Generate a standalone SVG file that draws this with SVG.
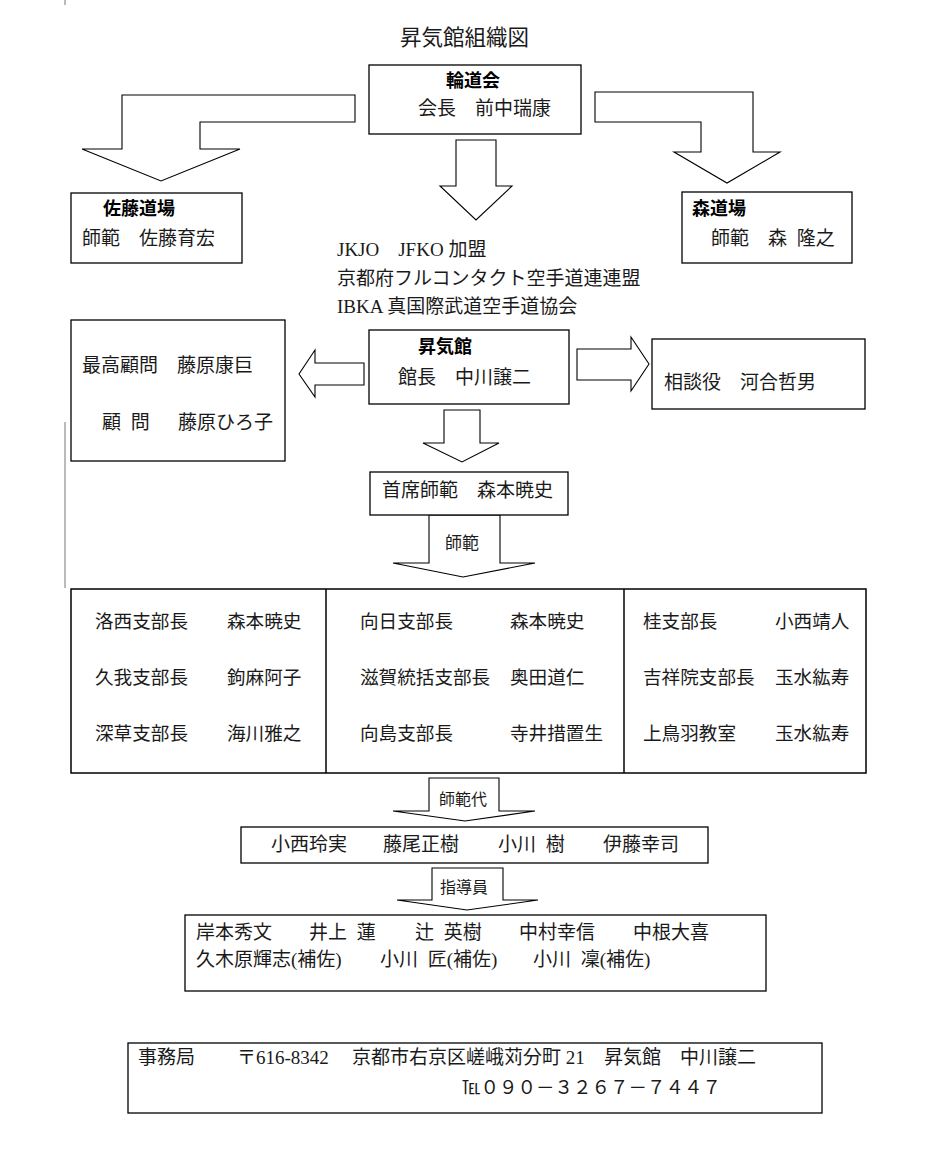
<svg xmlns="http://www.w3.org/2000/svg" width="931" height="1166" viewBox="0 0 931 1166">
<style>
.box{fill:#fff;stroke:#000;stroke-width:1.3}
.arr{fill:#fff;stroke:#000;stroke-width:1.1;stroke-linejoin:miter}
.t{font-family:"Liberation Serif","Noto Sans CJK JP",serif;font-size:19px;fill:#1a1a1a}
.b{font-family:"Noto Sans CJK JP",sans-serif;font-size:18px;font-weight:bold;fill:#000}
.tb{font-family:"Liberation Serif","Noto Sans CJK JP",serif;font-size:18.6px;fill:#1a1a1a}
.s{font-family:"Liberation Serif","Noto Sans CJK JP",serif;font-size:16px;fill:#1a1a1a}
.thin{stroke:#777;stroke-width:1}
</style>
<rect width="931" height="1166" fill="#fff"/>
<line class="thin" x1="65" y1="0" x2="65" y2="5"/>
<line class="thin" x1="65" y1="422" x2="65" y2="588"/>
<text class="t" x="400" y="45" style="font-size:21.5px">昇気館組織図</text>

<g id="connectors">
<path class="arr" d="M355,95 L122,95 L122,149 L82,149 L161,181 L240,149 L200,149 L200,122 L355,122 Z"/>
<path class="arr" d="M595,92 L753,92 L753,152 L780,152 L727,183 L674,152 L701,152 L701,122 L595,122 Z"/>
<path class="arr" d="M456,140 L496,140 L496,186 L512,186 L476,220 L440,186 L456,186 Z"/>
<path class="arr" d="M364,363 L315,363 L315,350 L299,374 L315,397 L315,385 L364,385 Z"/>
<path class="arr" d="M577,349 L631,349 L631,337 L649,364 L631,391 L631,380 L577,380 Z"/>
<path class="arr" d="M444,410 L480,410 L480,443 L499,443 L462,462 L423,443 L444,443 Z"/>
<path class="arr" d="M429,515 L500,515 L500,563 L535,563 L463,577 L393,563 L429,563 Z"/>
<text class="s" x="445" y="549" style="font-size:17px">師範</text>
<path class="arr" d="M429,778 L499,778 L499,811 L535,811 L465,821 L393,811 L429,811 Z"/>
<text class="s" x="439" y="805">師範代</text>
<path class="arr" d="M432,868 L503,868 L503,900 L538,900 L467,910 L397,900 L432,900 Z"/>
<text class="s" x="440" y="893">指導員</text>
</g>

<g id="rindokai">
<rect class="box" x="369" y="65" width="212" height="69"/>
<text class="b" x="446" y="87">輪道会</text>
<text class="t" x="418" y="115">会長　前中瑞康</text>
</g>

<g id="sato">
<rect class="box" x="71" y="193" width="171" height="70"/>
<text class="b" x="103" y="215">佐藤道場</text>
<text class="t" x="82" y="245">師範　佐藤育宏</text>
</g>

<g id="mori">
<rect class="box" x="682" y="192" width="170" height="71"/>
<text class="b" x="692" y="215">森道場</text>
<text class="t" x="711" y="245">師範　森<tspan dx="5"> 隆之</tspan></text>
</g>

<g id="affiliations">
<text class="t" x="337" y="256">JKJO　JFKO 加盟</text>
<text class="t" x="337" y="285">京都府フルコンタクト空手道連連盟</text>
<text class="t" x="337" y="313">IBKA 真国際武道空手道協会</text>
</g>

<g id="advisors">
<rect class="box" x="71" y="320" width="214" height="141"/>
<text class="t" x="82" y="372">最高顧問　藤原康巨</text>
<text class="t" x="102" y="429">顧<tspan dx="5"> 問</tspan></text>
<text class="t" x="178" y="429">藤原ひろ子</text>
</g>

<g id="shokikan">
<rect class="box" x="369" y="330" width="200" height="74"/>
<text class="b" x="418" y="353">昇気館</text>
<text class="t" x="398" y="384">館長　中川譲二</text>
</g>

<g id="consultant">
<rect class="box" x="652" y="339" width="213" height="70"/>
<text class="t" x="664" y="389">相談役　河合哲男</text>
</g>

<g id="chief">
<rect class="box" x="370" y="472" width="198" height="43"/>
<text class="t" x="382" y="497">首席師範　森本暁史</text>
</g>

<g id="branches">
<rect class="box" x="71" y="589" width="795" height="184" style="stroke-width:1.5"/>
<line x1="326" y1="589" x2="326" y2="773" stroke="#000" stroke-width="1.5"/>
<line x1="624" y1="589" x2="624" y2="773" stroke="#000" stroke-width="1.5"/>
<text class="tb" x="95" y="628">洛西支部長</text>
<text class="tb" x="227" y="628">森本暁史</text>
<text class="tb" x="95" y="684">久我支部長</text>
<text class="tb" x="227" y="684">鉤麻阿子</text>
<text class="tb" x="95" y="740">深草支部長</text>
<text class="tb" x="227" y="740">海川雅之</text>
<text class="tb" x="360" y="628">向日支部長</text>
<text class="tb" x="510" y="628">森本暁史</text>
<text class="tb" x="360" y="684">滋賀統括支部長</text>
<text class="tb" x="510" y="684">奥田道仁</text>
<text class="tb" x="360" y="740">向島支部長</text>
<text class="tb" x="510" y="740">寺井措置生</text>
<text class="tb" x="643" y="628">桂支部長</text>
<text class="tb" x="775" y="628">小西靖人</text>
<text class="tb" x="643" y="684">吉祥院支部長</text>
<text class="tb" x="775" y="684">玉水紘寿</text>
<text class="tb" x="643" y="740">上鳥羽教室</text>
<text class="tb" x="775" y="740">玉水紘寿</text>
</g>

<g id="shihandai">
<rect class="box" x="241" y="827" width="467" height="36"/>
<text class="t" x="271" y="851">小西玲実</text>
<text class="t" x="383" y="851">藤尾正樹</text>
<text class="t" x="498" y="851">小川<tspan dx="5"> 樹</tspan></text>
<text class="t" x="603" y="851">伊藤幸司</text>
</g>

<g id="instructors">
<rect class="box" x="185" y="915" width="581" height="76"/>
<text class="t" x="196" y="939">岸本秀文</text>
<text class="t" x="309" y="939">井上<tspan dx="5"> 蓮</tspan></text>
<text class="t" x="415" y="939">辻<tspan dx="5"> 英樹</tspan></text>
<text class="t" x="519" y="939">中村幸信</text>
<text class="t" x="633" y="939">中根大喜</text>
<text class="t" x="196" y="966">久木原輝志(補佐)</text>
<text class="t" x="380" y="966">小川<tspan dx="5"> 匠(補佐)</tspan></text>
<text class="t" x="533" y="966">小川<tspan dx="5"> 凜(補佐)</tspan></text>
</g>

<g id="office">
<rect class="box" x="128" y="1043" width="694" height="70"/>
<text class="t" x="138" y="1064">事務局</text>
<text class="t" x="237" y="1064">〒616-8342</text>
<text class="t" x="352" y="1064">京都市右京区嵯峨苅分町 21</text>
<text class="t" x="604" y="1064">昇気館</text>
<text class="t" x="680" y="1064">中川譲二</text>
<text class="t" x="462" y="1094" style="font-size:18.5px">℡０９０－３２６７－７４４７</text>
</g>
</svg>
